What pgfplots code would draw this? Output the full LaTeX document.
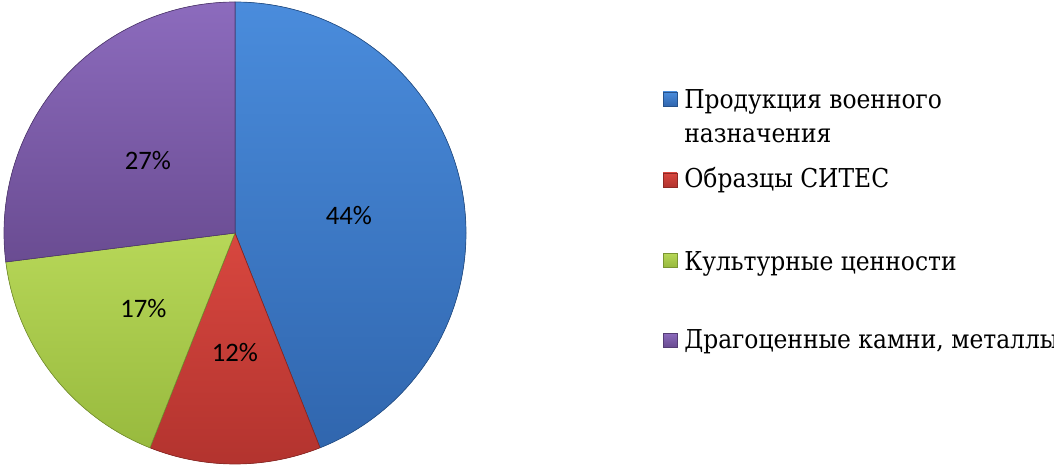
\documentclass[border=0pt]{standalone}
\usepackage{pgfplots}
\usepackage{pgfplotstable}
\pgfplotsset{compat=1.18}
\usepackage{fontspec}
\setmainfont{DejaVu Serif Condensed}
\newfontfamily\tnr{DejaVu Serif Condensed}
\newfontfamily\calibri{Carlito}
\definecolor{pieblue}{HTML}{3E7ECD}
\definecolor{piebluetop}{HTML}{4A8CDC}
\definecolor{piebluebot}{HTML}{3066AE}
\definecolor{piered}{HTML}{C63C36}
\definecolor{pieredtop}{HTML}{D8473F}
\definecolor{pieredbot}{HTML}{B2332E}
\definecolor{piegreen}{HTML}{A6C84A}
\definecolor{piegreentop}{HTML}{B7D758}
\definecolor{piegreenbot}{HTML}{98BA3E}
\definecolor{piepurple}{HTML}{7B5AA6}
\definecolor{piepurpletop}{HTML}{8C6BBD}
\definecolor{piepurplebot}{HTML}{6A4C92}
\pgfplotstableread{
value col
44 blue
12 red
17 green
27 purple
}\piedata
\begin{document}
\begin{tikzpicture}
\clip (0,0) rectangle (790.5pt,348.75pt);
\begin{axis}[
  x=0.75pt, y=0.75pt,
  xmin=0, xmax=1054, ymin=0, ymax=465,
  hide axis, clip=false,
  anchor=origin, at={(0,0)},
]
\def\cx{235}
\def\cy{232}
\def\R{173.25pt}
\def\cum{0}
\pgfplotsforeachungrouped \i in {0,...,3}{%
  \pgfplotstablegetelem{\i}{value}\of\piedata
  \let\v\pgfplotsretval
  \pgfplotstablegetelem{\i}{col}\of\piedata
  \let\c\pgfplotsretval
  \pgfmathsetmacro{\sa}{90-\cum*3.6}%
  \pgfmathsetmacro{\ea}{90-(\cum+\v)*3.6}%
  \pgfmathsetmacro{\ma}{(\sa+\ea)/2}%
  \pgfmathsetmacro{\newcum}{\cum+\v}%
  \edef\cmd{%
    \noexpand\fill[top color=pie\c top, bottom color=pie\c bot, draw=pie\c bot!80!black, line width=0.5pt]
      (axis cs:\cx,\cy) -- ++(\sa:\R) arc[start angle=\sa, end angle=\ea, radius=\R] -- cycle;
    \noexpand\node[font=\noexpand\calibri\noexpand\fontsize{20}{24}\noexpand\selectfont, text=black, yshift=-3pt]
      at ([shift={(\ma:87pt)}]axis cs:\cx,\cy) {\v\noexpand\%};
  }%
  \cmd
  \global\let\cum\newcum
}
% legend
\begin{scope}[every node/.style={font=\tnr\fontsize{19.5}{26}\selectfont, anchor=base west, inner sep=0pt}]
\node at (axis cs:684,356) {\tnr Продукция военного};
\node at (axis cs:684,322) {\tnr назначения};
\node at (axis cs:684,277) {\tnr Образцы СИТЕС};
\node at (axis cs:684,195) {\tnr Культурные ценности};
\node at (axis cs:684,117) {\tnr Драгоценные камни, металлы};
\end{scope}
\shade[top color=piebluetop, bottom color=piebluebot, draw=piebluebot!80!black, line width=0.3pt] (axis cs:663,359) rectangle (axis cs:677,373);
\shade[top color=pieredtop, bottom color=pieredbot, draw=pieredbot!80!black, line width=0.3pt] (axis cs:663,278) rectangle (axis cs:677,292);
\shade[top color=piegreentop, bottom color=piegreenbot, draw=piegreenbot!80!black, line width=0.3pt] (axis cs:663,198) rectangle (axis cs:677,212);
\shade[top color=piepurpletop, bottom color=piepurplebot, draw=piepurplebot!80!black, line width=0.3pt] (axis cs:663,118) rectangle (axis cs:677,132);
\end{axis}
\end{tikzpicture}
\end{document}
